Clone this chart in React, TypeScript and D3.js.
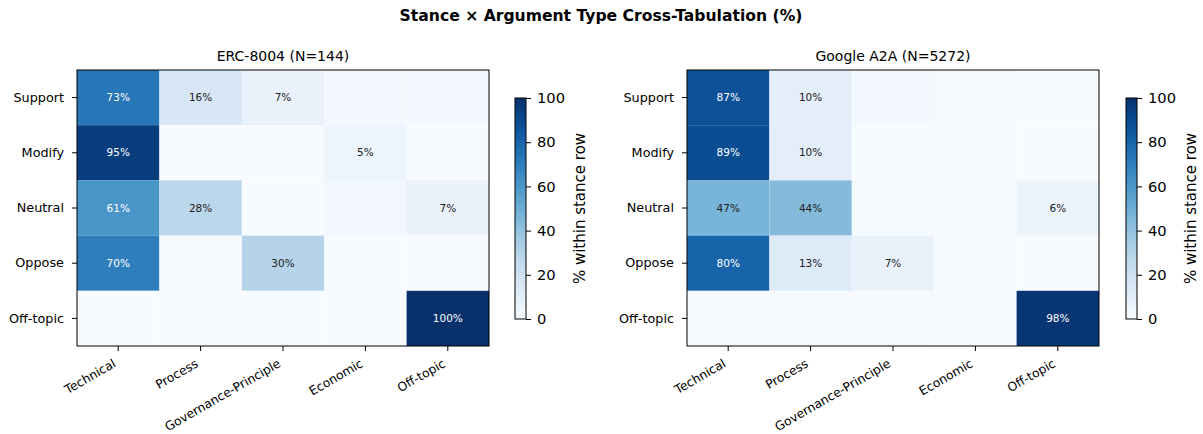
import { useEffect, useRef } from "react";
import * as d3 from "d3";

const stances = ["Support", "Modify", "Neutral", "Oppose", "Off-topic"];
const argTypes = ["Technical", "Process", "Governance-Principle", "Economic", "Off-topic"];

// % within stance row, rows = stances, cols = argument types
const ercValues = [
  [73, 16, 7, 2, 2],
  [95, 0, 0, 5, 0],
  [61, 28, 0, 3, 7],
  [70, 0, 30, 0, 0],
  [0, 0, 0, 0, 100],
];
const a2aValues = [
  [87, 10, 2, 1, 0],
  [89, 10, 1, 0, 0],
  [47, 44, 1, 1, 6],
  [80, 13, 7, 0.5, 0],
  [0.5, 1, 0.5, 0, 98],
];
const panelTitles = ["ERC-8004 (N=144)", "Google A2A (N=5272)"];
const cbTicks = [0, 20, 40, 60, 80, 100];

const font = "'DejaVu Sans', sans-serif";

export default function App() {
  const ref = useRef<SVGSVGElement>(null);

  useEffect(() => {
    const svg = d3.select(ref.current);
    svg.selectAll("*").remove();
    svg.style("font-family", font);

    svg
      .append("text")
      .attr("x", 601)
      .attr("y", 21)
      .attr("text-anchor", "middle")
      .style("font-size", "15.6px")
      .style("font-weight", "bold")
      .text("Stance × Argument Type Cross-Tabulation (%)");

    const color = d3.scaleSequential(d3.interpolateBlues).domain([0, 100]);

    const panels = [
      { values: ercValues, left: 77, cbLeft: 515 },
      { values: a2aValues, left: 687, cbLeft: 1126 },
    ];

    panels.forEach((p, i) => {
      const top = 70;
      const w = 412;
      const h = 276;
      const x = d3.scaleBand().domain(argTypes).range([p.left, p.left + w]);
      const y = d3.scaleBand().domain(stances).range([top, top + h]);

      const g = svg.append("g");

      g.append("text")
        .attr("x", p.left + w / 2)
        .attr("y", top - 9)
        .attr("text-anchor", "middle")
        .style("font-size", "14px")
        .text(panelTitles[i]);

      const cells = p.values.flatMap((row, r) =>
        row.map((v, c) => ({ stance: stances[r], arg: argTypes[c], v }))
      );

      g.selectAll("rect.cell")
        .data(cells)
        .join("rect")
        .attr("class", "cell")
        .attr("x", (d) => x(d.arg)!)
        .attr("y", (d) => y(d.stance)!)
        .attr("width", x.bandwidth())
        .attr("height", y.bandwidth())
        .attr("fill", (d) => color(d.v));

      g.selectAll("text.lab")
        .data(cells.filter((d) => d.v >= 5))
        .join("text")
        .attr("class", "lab")
        .attr("x", (d) => x(d.arg)! + x.bandwidth() / 2)
        .attr("y", (d) => y(d.stance)! + y.bandwidth() / 2)
        .attr("dy", "0.35em")
        .attr("text-anchor", "middle")
        .style("font-size", "10.5px")
        .attr("fill", (d) => (d.v > 50 ? "white" : "#222"))
        .text((d) => `${Math.round(d.v)}%`);

      g.append("rect")
        .attr("x", p.left)
        .attr("y", top)
        .attr("width", w)
        .attr("height", h)
        .attr("fill", "none")
        .attr("stroke", "black")
        .attr("stroke-width", 1);

      // y axis
      const ya = g
        .append("g")
        .attr("transform", `translate(${p.left},0)`)
        .call(d3.axisLeft(y).tickSize(5).tickPadding(8));
      ya.select(".domain").remove();
      ya.selectAll("text").style("font-size", "12.8px").style("font-family", font).attr("fill", "black");

      // x axis, labels rotated 30° with their top-right corner at the tick
      const xa = g
        .append("g")
        .attr("transform", `translate(0,${top + h})`)
        .call(d3.axisBottom(x).tickSize(5));
      xa.select(".domain").remove();
      xa.selectAll("text")
        .style("font-size", "12.3px")
        .style("font-family", font)
        .attr("fill", "black")
        .attr("text-anchor", "end")
        .attr("dy", null)
        .attr("y", 0)
        .attr("x", 0)
        .attr("transform", "translate(-1.5,20) rotate(-30)");

      // colorbar
      const cbTop = 98;
      const cbH = 221;
      const cbW = 11;
      const cy = d3.scaleLinear().domain([0, 100]).range([cbTop + cbH, cbTop]);
      const gradId = `grad${i}`;
      const grad = svg
        .append("defs")
        .append("linearGradient")
        .attr("id", gradId)
        .attr("x1", 0)
        .attr("y1", 1)
        .attr("x2", 0)
        .attr("y2", 0);
      d3.range(0, 1.0001, 0.05).forEach((t) => {
        grad.append("stop").attr("offset", t).attr("stop-color", d3.interpolateBlues(t));
      });
      g.append("rect")
        .attr("x", p.cbLeft)
        .attr("y", cbTop)
        .attr("width", cbW)
        .attr("height", cbH)
        .attr("fill", `url(#${gradId})`)
        .attr("stroke", "black")
        .attr("stroke-width", 1);
      const ca = g
        .append("g")
        .attr("transform", `translate(${p.cbLeft + cbW},0)`)
        .call(d3.axisRight(cy).tickValues(cbTicks).tickSize(5).tickPadding(6));
      ca.select(".domain").remove();
      ca.selectAll("text").style("font-size", "14.7px").style("font-family", font).attr("fill", "black");

      g.append("text")
        .attr("transform", `translate(${p.cbLeft + 70},${cbTop + cbH / 2}) rotate(-90)`)
        .attr("text-anchor", "middle")
        .style("font-size", "15px")
        .text("% within stance row");
    });
  }, []);

  return (
    <svg
      ref={ref}
      width={1203}
      height={434}
      style={{ position: "absolute", left: 0, top: 0, background: "white" }}
    />
  );
}
